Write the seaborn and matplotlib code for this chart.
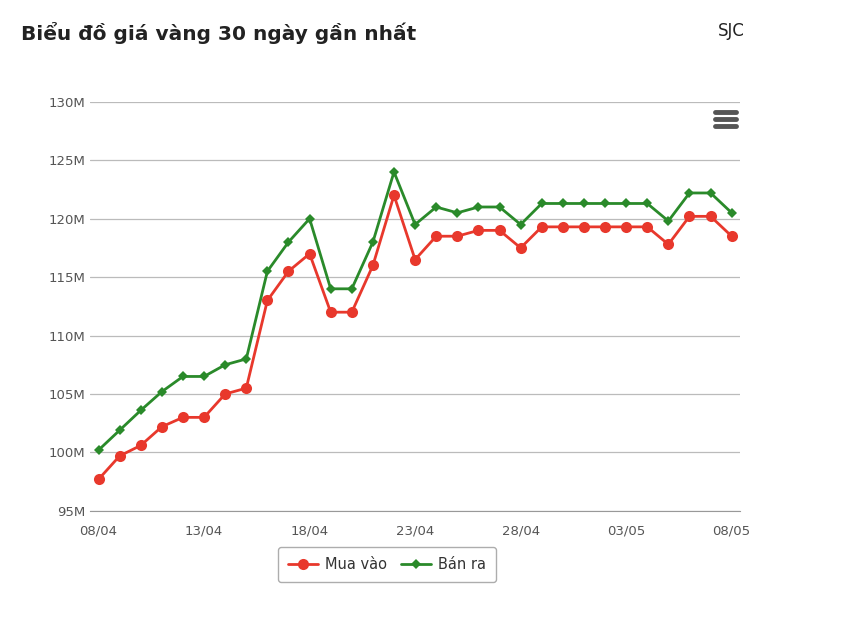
import matplotlib
matplotlib.use("Agg")
import matplotlib.pyplot as plt
import seaborn as sns
import pandas as pd
import numpy as np

dates = pd.date_range("2025-04-08", "2025-05-08", freq="D")
mua_vao = [97.7, 99.7, 100.6, 102.2, 103, 103, 105, 105.5, 113, 115.5, 117, 112, 112, 116, 122,
           116.5, 118.5, 118.5, 119, 119, 117.5, 119.3, 119.3, 119.3, 119.3, 119.3, 119.3,
           117.8, 120.2, 120.2, 118.5]
ban_ra = [100.2, 101.9, 103.6, 105.2, 106.5, 106.5, 107.5, 108, 115.5, 118, 120, 114, 114, 118, 124,
          119.5, 121, 120.5, 121, 121, 119.5, 121.3, 121.3, 121.3, 121.3, 121.3, 121.3,
          119.8, 122.2, 122.2, 120.5]

sns.set_style("white")
plt.rcParams['font.family'] = ['DejaVu Sans']

df = pd.DataFrame({"day": np.arange(len(dates)), "Mua vào": mua_vao, "Bán ra": ban_ra})

fig = plt.figure(figsize=(8.42, 6.17), dpi=100)
ax = fig.add_axes([0.107, 0.172, 0.772, 0.663])

sns.lineplot(data=df, x="day", y="Mua vào", ax=ax, color="#e8382c", lw=2,
             marker="o", markersize=8, markeredgewidth=0, label="Mua vào")
sns.lineplot(data=df, x="day", y="Bán ra", ax=ax, color="#2a8a2a", lw=2,
             marker="D", markersize=5.5, markeredgewidth=0, label="Bán ra")

ax.set_ylim(95, 130)
ax.set_xlim(-0.4, 30.4)
ax.set_yticks(np.arange(95, 131, 5))
ax.set_yticklabels([f"{v}M" for v in range(95, 131, 5)], color="#555555", fontsize=9.5)
xt = np.arange(0, 31, 5)
ax.set_xticks(xt)
ax.set_xticklabels([dates[i].strftime("%d/%m") for i in xt], color="#555555", fontsize=9.5)
ax.yaxis.grid(True, color="#bbbbbb", lw=0.9)
ax.set_xlabel("")
ax.set_ylabel("")
for s in ["top", "right", "left"]:
    ax.spines[s].set_visible(False)
ax.spines["bottom"].set_color("#999999")
ax.tick_params(axis="x", length=6, color="#999999", direction="out")
ax.tick_params(axis="y", length=0)

ax.legend(loc="upper center", bbox_to_anchor=(0.457, -0.07), ncol=2, frameon=True,
          fancybox=True, edgecolor="#999999", fontsize=10.5, handlelength=2.0,
          labelcolor="#333333", borderpad=0.7, columnspacing=1.0, handletextpad=0.5)

fig.text(0.025, 0.947, "Biểu đồ giá vàng 30 ngày gần nhất", fontsize=14.5, fontweight="bold",
         color="#222222", va="center")
fig.text(0.852, 0.95, "SJC", fontsize=12, color="#222222", va="center")
for yy in [0.796, 0.807, 0.818]:
    fig.add_artist(plt.Line2D([0.849, 0.874], [yy, yy], color="#555555", lw=3.5,
                              solid_capstyle="round"))

fig.savefig("out.png", dpi=100, facecolor="white")
